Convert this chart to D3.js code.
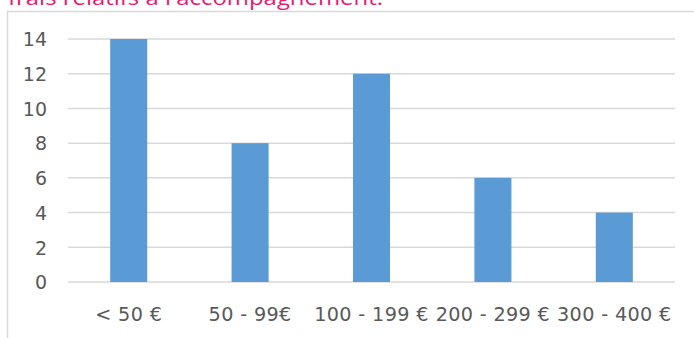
<!DOCTYPE html>
<html>
<head>
<meta charset="utf-8">
<script src="https://cdn.jsdelivr.net/npm/d3@7"></script>
<style>
  html, body { margin: 0; padding: 0; background: #fff; }
  svg { display: block; }
</style>
</head>
<body>
<svg id="chart" width="694" height="338"></svg>
<script>
// Price ranges and number of answers per range
const categories = ["< 50 €", "50 - 99€", "100 - 199 €", "200 - 299 €", "300 - 400 €"];
const counts = [14, 8, 12, 6, 4];
const yTicks = [0, 2, 4, 6, 8, 10, 12, 14];
const heading = "frais relatifs à l'accompagnement.";

const svg = d3.select("#chart");
const W = 694, H = 338;
const plot = { left: 68, right: 675, top: 39, bottom: 282 };

// heading line above the chart frame (only its lower part shows)
svg.append("text")
  .attr("x", 8).attr("y", 5)
  .attr("font-family", "Open Sans, sans-serif")
  .attr("font-size", 20)
  .attr("fill", "#E8196F")
  .attr("textLength", 375)
  .attr("lengthAdjust", "spacingAndGlyphs")
  .text(heading);

// chart frame: top and left edges
svg.append("path")
  .attr("d", `M7.5,${H} V11.5 H${W}`)
  .attr("fill", "none")
  .attr("stroke", "#D9D9D9")
  .attr("stroke-width", 1.5);

const x = d3.scaleBand()
  .domain(categories)
  .range([plot.left, plot.right])
  .padding(0);

const y = d3.scaleLinear()
  .domain([0, 14])
  .range([plot.bottom, plot.top]);

const barW = x.bandwidth() * 0.305;

// horizontal gridlines
svg.append("g")
  .selectAll("line")
  .data(yTicks)
  .join("line")
  .attr("x1", plot.left).attr("x2", plot.right)
  .attr("y1", d => y(d)).attr("y2", d => y(d))
  .attr("stroke", "#D9D9D9")
  .attr("stroke-width", 1.5);

// value axis labels
const yAxis = d3.axisLeft(y).tickValues(yTicks).tickSize(0).tickPadding(0).tickFormat(d3.format("d"));
const gy = svg.append("g")
  .attr("transform", `translate(47,0)`)
  .call(yAxis);
gy.select(".domain").remove();
gy.selectAll("text")
  .attr("font-family", "DejaVu Sans, sans-serif")
  .attr("font-size", 19)
  .attr("fill", "#595959")
  .attr("dy", "0.36em");

// bars
svg.append("g")
  .selectAll("rect")
  .data(counts)
  .join("rect")
  .attr("x", (d, i) => x(categories[i]) + x.bandwidth() / 2 - barW / 2)
  .attr("y", d => y(d))
  .attr("width", barW)
  .attr("height", d => y(0) - y(d))
  .attr("fill", "#5B9BD5");

// category labels
const xAxis = d3.axisBottom(x).tickSize(0).tickPadding(0);
const gx = svg.append("g")
  .attr("transform", `translate(0,${plot.bottom})`)
  .call(xAxis);
gx.select(".domain").remove();
gx.selectAll("text")
  .attr("font-family", "DejaVu Sans, sans-serif")
  .attr("font-size", 19.2)
  .attr("letter-spacing", "0.35px")
  .attr("fill", "#595959")
  .attr("dy", 0)
  .attr("y", 39);
</script>
</body>
</html>
